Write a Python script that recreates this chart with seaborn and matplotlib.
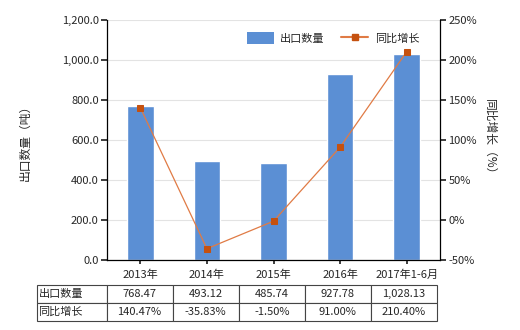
import numpy as np
import pandas as pd
import matplotlib
matplotlib.use("Agg")
import matplotlib.pyplot as plt
import seaborn as sns
from matplotlib.patches import Patch
from matplotlib.lines import Line2D

categories = ["2013年", "2014年", "2015年", "2016年", "2017年1-6月"]
export_qty = [768.47, 493.12, 485.74, 927.78, 1028.13]
growth = [140.47, -35.83, -1.50, 91.00, 210.40]
qty_labels = ["768.47", "493.12", "485.74", "927.78", "1,028.13"]
growth_labels = ["140.47%", "-35.83%", "-1.50%", "91.00%", "210.40%"]

sns.set_theme(style="white")
plt.rcParams['font.family'] = ['Noto Sans CJK SC', 'DejaVu Sans']
plt.rcParams['axes.unicode_minus'] = False

bar_color = "#5B8FD4"
line_color = "#E07B45"
marker_color = "#C5510F"
fs = 8

fig = plt.figure(figsize=(5.2, 3.3), dpi=100)
W, H = 520, 330
ax = fig.add_axes([107 / W, 1 - 260 / H, 333 / W, 240 / H])

df = pd.DataFrame({"cat": categories, "qty": export_qty})
sns.barplot(data=df, x="cat", y="qty", color=bar_color, width=0.4, ax=ax, saturation=1)
ax.set_ylim(0, 1200)
ax.set_yticks(np.arange(0, 1201, 200))
ax.set_yticklabels([f"{v:,.1f}" for v in np.arange(0, 1201, 200)], fontsize=fs)
ax.set_xlim(-0.5, 4.5)
ax.set_xlabel("")
ax.set_ylabel("出口数量（吨）", fontsize=8.5, labelpad=22)
ax.tick_params(axis="x", labelsize=fs, length=3, direction="out", bottom=True, pad=4)
ax.tick_params(axis="y", length=4, direction="out", left=True, pad=2)
ax.yaxis.grid(True, color="#e3e3e3", lw=0.8)
ax.set_axisbelow(True)
for s in ["top", "right"]:
    ax.spines[s].set_visible(False)
for s in ["left", "bottom"]:
    ax.spines[s].set_color("black")
    ax.spines[s].set_linewidth(0.9)

ax2 = ax.twinx()
sns.lineplot(x=np.arange(len(categories)), y=growth, ax=ax2, color=line_color, lw=0.9,
             marker="s", markersize=5, markerfacecolor=marker_color, markeredgecolor=marker_color)
ax2.set_ylim(-50, 250)
ax2.set_yticks(np.arange(-50, 251, 50))
ax2.set_yticklabels([f"{v}%" for v in range(-50, 251, 50)], fontsize=fs)
ax2.tick_params(axis="y", length=4, direction="out", right=True, pad=2)
ax2.set_ylabel("同比增长（%）", fontsize=8.5, rotation=-90, labelpad=14)
for s in ["top", "left", "bottom"]:
    ax2.spines[s].set_visible(False)
ax2.spines["right"].set_color("black")
ax2.spines["right"].set_linewidth(0.9)

handles = [Patch(facecolor=bar_color, edgecolor="none"),
           Line2D([0], [0], color=line_color, lw=1.5, marker="s", markersize=4,
                  markerfacecolor=marker_color, markeredgecolor=marker_color)]
fig.legend(handles, ["出口数量", "同比增长"], loc="center", bbox_to_anchor=(333 / W, 1 - 38 / H),
           ncol=2, frameon=False, fontsize=fs, handlelength=2.4, handleheight=1.2,
           columnspacing=1.5, handletextpad=0.6)

# table
cell_text = [["出口数量"] + qty_labels, ["同比增长"] + growth_labels]
tb = ax.table(cellText=cell_text, cellLoc="center",
              colWidths=[70 / 400] + [66.5 / 400] * 5,
              bbox=[(37 - 107) / 333, (260 - 321) / 240, 400 / 333, 36 / 240])
tb.auto_set_font_size(False)
for (r, c), cell in tb.get_celld().items():
    cell.set_edgecolor("#444444")
    cell.set_linewidth(0.8)
    cell.get_text().set_fontsize(fs)
    if c == 0:
        cell.get_text().set_ha("left")
        cell._loc = "left"
        cell.PAD = 0.02

fig.savefig("out.png", dpi=100)
